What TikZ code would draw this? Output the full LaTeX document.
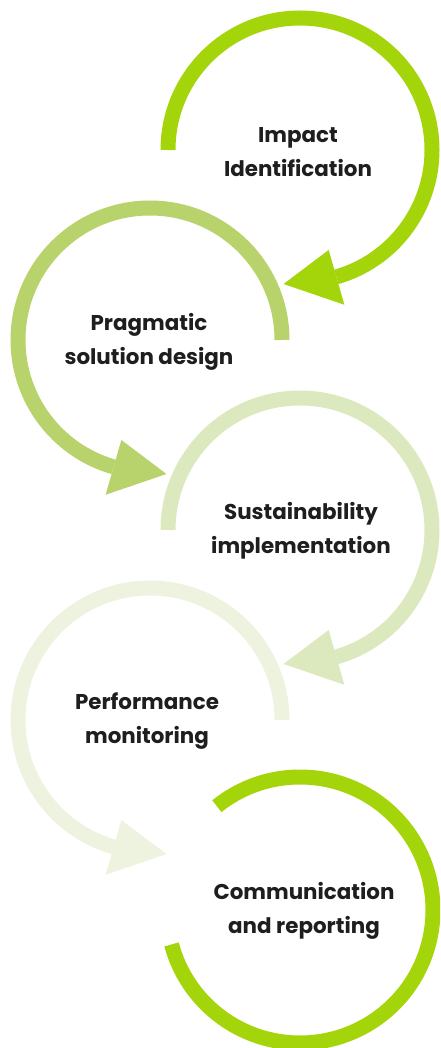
\documentclass[tikz,border=0pt]{standalone}
\usepackage{fontspec}
\setmainfont{Poppins}
\definecolor{gA}{HTML}{A4D50A}
\definecolor{gB}{HTML}{B8D36B}
\definecolor{gC}{HTML}{DCE8BE}
\definecolor{gD}{HTML}{EEF3E0}
\definecolor{txt}{HTML}{1E1E1E}
\tikzset{
  ring/.style={line width=15pt},
  lbl/.style={align=center, text=txt, font=\fontsize{21.4}{34.5}\selectfont\bfseries, inner sep=0pt},
}
\begin{document}
\begin{tikzpicture}[x=1pt,y=1pt]
\useasboundingbox (0,0) rectangle (440,-1048);
\clip (0,0) rectangle (440,-1048);
% centres
\coordinate (c1) at (300,-150);
\coordinate (c2) at (150,-340);
\coordinate (c3) at (300,-530);
\coordinate (c4) at (150,-720);
\coordinate (c5) at (300,-910);
% ring 1 (clockwise)
\draw[ring, gA] ([shift={(180:132)}]c1) arc[start angle=180, end angle=-74, radius=132];
\fill[gA] ([shift={(-74:104)}]c1) -- ([shift={(-74:161)}]c1) -- ([shift={(-97:135)}]c1) -- cycle;
% ring 2 (counter-clockwise)
\draw[ring, gB] ([shift={(0:132)}]c2) arc[start angle=0, end angle=254, radius=132];
\fill[gB] ([shift={(254:104)}]c2) -- ([shift={(254:161)}]c2) -- ([shift={(277:135)}]c2) -- cycle;
% ring 3
\draw[ring, gC] ([shift={(180:132)}]c3) arc[start angle=180, end angle=-74, radius=132];
\fill[gC] ([shift={(-74:104)}]c3) -- ([shift={(-74:161)}]c3) -- ([shift={(-97:135)}]c3) -- cycle;
% ring 4
\draw[ring, gD] ([shift={(0:132)}]c4) arc[start angle=0, end angle=254, radius=132];
\fill[gD] ([shift={(254:104)}]c4) -- ([shift={(254:161)}]c4) -- ([shift={(277:135)}]c4) -- cycle;
% ring 5
\draw[ring, gA] ([shift={(128.7:133)}]c5) arc[start angle=128.7, end angle=-165, radius=133];
% labels
\node[lbl] (t1) at (298,-152) {Impact\\Identification};
\node[lbl] (t2) at (149,-342) {Pragmatic\\solution design};
\node[lbl] (t3) at (301,-531) {Sustainability\\implementation};
\node[lbl] (t4) at (147,-721) {Performance\\monitoring};
\node[lbl] (t5) at (304,-911) {Communication\\and reporting};
\end{tikzpicture}
\end{document}
